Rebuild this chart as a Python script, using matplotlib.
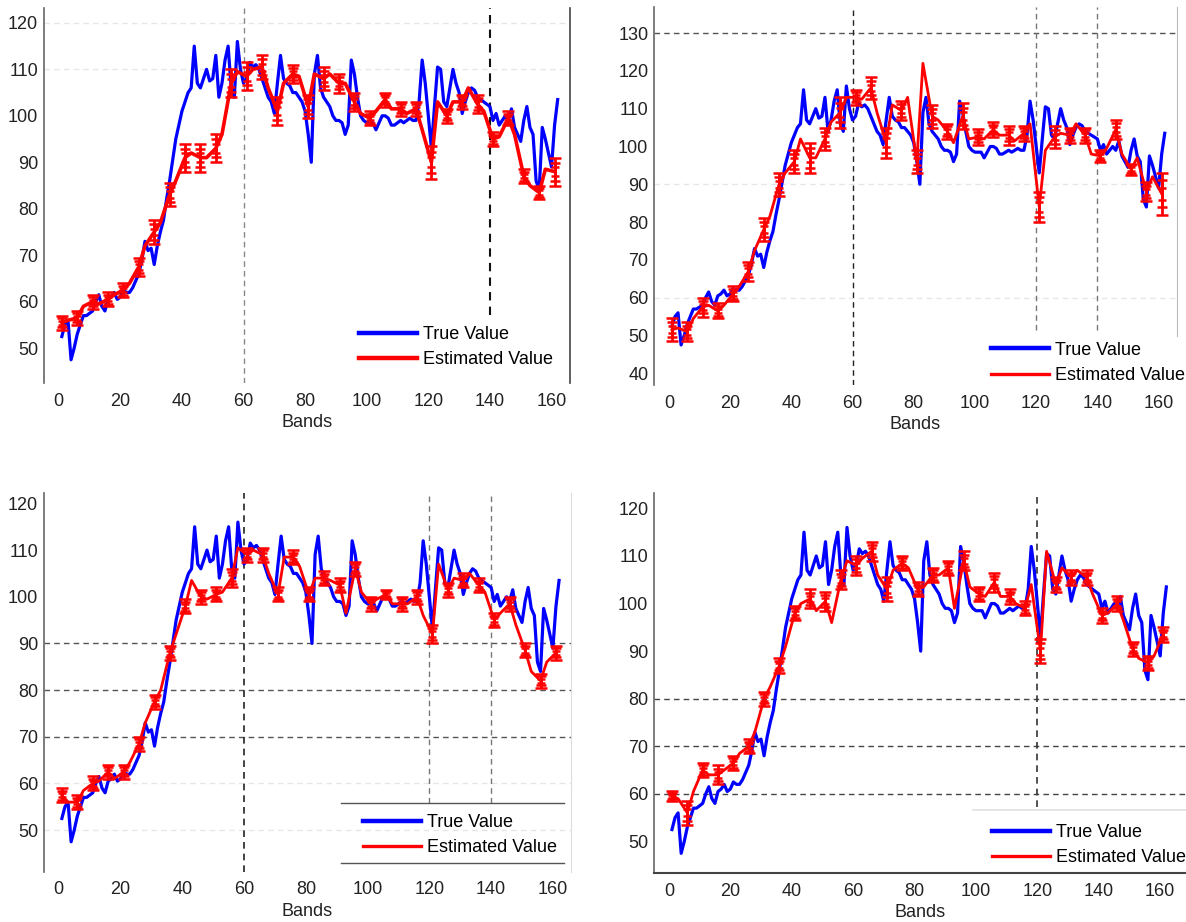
import numpy as np
import matplotlib
matplotlib.use('Agg')
import matplotlib.pyplot as plt
from matplotlib.lines import Line2D

plt.rcParams['font.family'] = ['Liberation Sans', 'DejaVu Sans']

# true spectrum, bands 1..162 (same curve in all four panels)
bands = np.arange(1, 163)
true_value = [
    52.5, 55, 56, 47.5, 50, 53, 55, 57, 57, 57.5,
    58, 60, 61.5, 59, 58, 60.5, 61, 62, 60.5, 61,
    62.5, 62, 62, 63, 64.5, 66, 69, 73, 71, 71.5,
    68, 72, 75, 77.5, 82, 86, 90.5, 95, 98, 101,
    103, 105, 106, 115, 107, 106, 108, 110, 107.5, 108,
    113, 104, 107, 112, 115, 106, 104, 116, 110, 107,
    108, 111.5, 110.5, 111, 110, 108, 106, 104, 103, 100.5,
    107, 113, 108, 107, 106.5, 105, 105, 104, 103, 101,
    96, 90, 109, 113, 106, 104, 103, 102, 100, 99,
    99, 98.5, 96, 98, 112, 109, 104, 100, 99, 98.5,
    98.5, 98.5, 97, 98.5, 100, 100, 99.5, 98, 98, 98.5,
    99, 98.5, 99, 99.5, 99, 99, 103, 112, 107, 100,
    93, 102, 110.5, 110, 103, 102, 106, 110, 107, 105,
    100.5, 103, 105, 106, 105.5, 104, 103.5, 103, 102.5, 102,
    99, 100.5, 98, 99, 100, 99, 101.5, 97.5, 96, 94.5,
    99, 102, 97.5, 96, 86, 84, 97.5, 95, 92, 89,
    98, 103.5,
]

# estimated spectrum, sampled at bands 1,3,6,8,11,13,...,161
est_bands = sorted(list(range(1, 162, 5)) + list(range(3, 160, 5)))

est_a = [55.5, 56, 56.5, 59, 60, 59.5, 60.5, 61.5, 62.5, 64,
         67.5, 72, 75, 77, 83, 86, 91, 92, 91, 91,
         93, 96, 107, 109.5, 108.5, 110, 110.5, 106, 101, 107,
         109, 108.5, 102, 109, 108, 109, 107, 107, 103, 100.5,
         99.5, 101, 103.5, 101.5, 101.5, 100.5, 101.5, 97, 90, 103,
         100, 103, 103, 106, 102.5, 101, 95, 95.5, 99.5, 96,
         87, 85, 83.5, 88.5, 88]
est_b = [51.5, 52, 51, 54.5, 57.5, 58, 56.5, 58, 61, 63,
         67, 72.5, 78, 81.5, 90, 93, 96, 102, 97, 97,
         102, 106.5, 109, 113, 113, 112.5, 115.5, 109, 101, 111,
         109.5, 113, 96, 122, 108, 107, 104, 101, 108, 102,
         102.5, 102, 104.5, 103, 103, 101.5, 103.5, 106, 84, 99,
         102.5, 103.5, 103, 106, 103, 98, 97.5, 99.5, 104.5, 98,
         94, 97, 88, 92, 87.5]
est_c = [57.5, 56, 56, 58.5, 60, 60.5, 62.5, 61, 62.5, 64.5,
         68.5, 73, 77.5, 80, 88, 92, 98, 103.5, 100, 99.5,
         100.5, 101, 104, 110.5, 109, 110, 109, 105, 100.5, 108.5,
         108.5, 106.5, 100.5, 104, 104, 103.5, 102.5, 96.5, 106, 101,
         98.5, 99.5, 100.5, 98.5, 98.5, 98.5, 100, 96, 92, 107,
         101.5, 104, 103.5, 105, 102.5, 101, 95, 96.5, 98.5, 94,
         88.5, 84, 82, 86, 88]
est_d = [59.5, 59, 56, 60.5, 65, 64, 64, 65, 66.5, 68.5,
         70, 73, 80, 82.5, 87, 91, 98, 100, 101, 98.5,
         100.5, 96, 105, 109, 108, 109.5, 111, 106, 103, 107,
         108.5, 107.5, 103, 103.5, 106, 106, 107.5, 99, 109, 103.5,
         102, 101.5, 104.5, 101.5, 101.5, 100, 99, 104, 90, 111,
         104, 107.5, 105.5, 107, 105.5, 102, 97.5, 98, 100, 96.5,
         90.5, 88.5, 87.5, 89, 93.5]

# error bar half-lengths at bands 1,6,11,...,161
err_a = [1.5, 1.5, 1.5, 1.5, 1.5, 2, 2.5, 2.5, 3, 3, 3, 3, 3, 2.5, 3, 2, 2.5,
         2.5, 2, 2, 1.5, 1.5, 1.5, 1.5, 3.5, 1.5, 1.5, 2, 1.5, 1.5, 1.5, 1.5, 3]
err_b = [3, 2.5, 2.5, 2, 2, 2.5, 3, 3, 3, 4, 3, 4, 2, 3, 4, 2.5, 3,
         3, 2, 3.5, 2, 2, 2.5, 2, 4, 3, 2, 2, 1.5, 2.5, 1.5, 2.5, 5.5]
err_c = [1.5, 1.5, 1.5, 1.5, 1.5, 1.5, 1.5, 1.5, 1.5, 1.5, 1.5, 2, 1.5, 1.5, 1.5, 1.5, 1.5,
         1.5, 1.5, 1.5, 1.5, 1, 1.5, 1.5, 2, 1.5, 1.5, 1.5, 1.5, 1.5, 1.5, 1.5, 1.5]
err_d = [1, 2.5, 1.5, 2, 1.5, 1.5, 1.5, 1.5, 1.5, 2, 2, 2, 2, 2, 2.5, 1.5, 1.5,
         1.5, 1.5, 2, 1.5, 2, 1.5, 1.5, 2.5, 1.5, 1.5, 1.5, 1.5, 1.5, 1.5, 1.5, 1.5]

labels = ['True Value', 'Estimated Value']
xticks = np.arange(0, 161, 20)

BLUE = '#0000ff'
RED = '#ff0000'

fig = plt.figure(figsize=(11.86, 9.22), dpi=100)


def draw_panel(ax, est, err, yticks, ylim, red_lw, leg_red_lw, leg_anchor):
    ax.plot(bands, true_value, color=BLUE, lw=2.3, zorder=3)
    ax.plot(est_bands, est, color=RED, lw=red_lw, zorder=4)
    ex = est_bands[::2]
    ey = est[::2]
    # stacked caps give the thick "ladder" look of the original bars
    for frac, cs in [(1.0, 4.5), (0.65, 3.5), (0.3, 3)]:
        ax.errorbar(ex, ey, yerr=np.array(err) * frac, fmt='none', ecolor=RED,
                    elinewidth=2.0, capsize=cs, capthick=1.8, zorder=4)
    ax.set_xlim(-4.9, 166)
    ax.set_ylim(*ylim)
    ax.set_xticks(xticks)
    ax.set_yticks(yticks)
    ax.tick_params(length=0, labelsize=13, colors='#222222')
    ax.tick_params(axis='x', pad=7)
    ax.tick_params(axis='y', pad=4)
    ax.set_xlabel('Bands', fontsize=13, labelpad=3, color='#222222')
    for s in ['top', 'right', 'bottom']:
        ax.spines[s].set_visible(False)
    ax.spines['left'].set_color('#666666')
    ax.spines['left'].set_linewidth(1.2)
    handles = [Line2D([], [], color=BLUE, lw=3.2),
               Line2D([], [], color=RED, lw=leg_red_lw)]
    ax.legend(handles, labels, loc='lower right', bbox_to_anchor=leg_anchor,
              frameon=False, fontsize=13, handlelength=3.2, handletextpad=0.35,
              labelspacing=0.45, borderaxespad=0, borderpad=0)


def hline(ax, y, color, lw=1.0):
    ax.axhline(y, color=color, lw=lw, ls=(0, (4, 3)), zorder=1)


def vline(ax, x, color, lw=1.0, ymin=0.0):
    ax.axvline(x, ymin=ymin, color=color, lw=lw, ls=(0, (4, 3)), zorder=1)


# panel 1 (top left)
ax1 = fig.add_axes([0.0368, 0.5846, 0.4438, 0.4067])
draw_panel(ax1, est_a, err_a, np.arange(50, 121, 10), (42.5, 123.2), 2.6, 3.2,
           (0.968, 0.04))
hline(ax1, 120, '#e6e6e6')
hline(ax1, 110, '#e6e6e6')
vline(ax1, 60, '#888888')
vline(ax1, 140, '#111111', lw=1.5, ymin=(57.2 - 42.5) / (123.2 - 42.5))
ax1.spines['right'].set_visible(True)
ax1.spines['right'].set_color('#444444')
ax1.spines['right'].set_linewidth(1.2)

# panel 2 (top right)
ax2 = fig.add_axes([0.5513, 0.5824, 0.4411, 0.41])
draw_panel(ax2, est_b, err_b, np.arange(40, 131, 10), (36.9, 136.9), 2.0, 2.4,
           (1.015, 0.003))
hline(ax2, 130, '#555555')
hline(ax2, 90, '#e6e6e6')
hline(ax2, 60, '#e6e6e6')
vline(ax2, 60, '#222222')
vline(ax2, 120, '#777777', ymin=(51.5 - 36.9) / 100)
vline(ax2, 140, '#777777', ymin=(51.5 - 36.9) / 100)
ax2.spines['right'].set_visible(True)
ax2.spines['right'].set_color('#bbbbbb')
ax2.spines['right'].set_bounds(50, 136.9)

# panel 3 (bottom left)
ax3 = fig.add_axes([0.0368, 0.0546, 0.445, 0.411])
draw_panel(ax3, est_c, err_c, np.arange(50, 121, 10), (41.1, 122.3), 2.0, 2.4,
           (0.973, 0.041))
for y in [90, 80, 70]:
    hline(ax3, y, '#555555')
for y in [60, 50]:
    hline(ax3, y, '#e6e6e6')
vline(ax3, 60, '#222222', lw=1.2)
vline(ax3, 120, '#777777', ymin=0.181)
vline(ax3, 140, '#777777', ymin=0.181)
ax3.spines['right'].set_visible(True)
ax3.spines['right'].set_color('#dddddd')
for yy in [0.181, 0.023]:
    ax3.add_line(Line2D([0.563, 0.986], [yy, yy], transform=ax3.transAxes,
                        color='#555555', lw=1.0))

# panel 4 (bottom right)
ax4 = fig.add_axes([0.5513, 0.0528, 0.4487, 0.4128])
draw_panel(ax4, est_d, err_d, np.arange(50, 121, 10), (43.3, 123.3), 2.0, 2.4,
           (1.0, 0.019))
ax4.set_xlim(-4.9, 168.4)
for y in [80, 70, 60]:
    hline(ax4, y, '#444444')
vline(ax4, 120, '#333333', lw=1.2, ymin=(57.3 - 43.3) / 80)
ax4.spines['bottom'].set_visible(True)
ax4.spines['bottom'].set_color('#444444')
ax4.spines['bottom'].set_linewidth(1.5)
ax4.add_line(Line2D([0.60, 1.0], [0.167, 0.167], transform=ax4.transAxes,
                    color='#e0e0e0', lw=1.2))

fig.savefig('out.png', dpi=100)
